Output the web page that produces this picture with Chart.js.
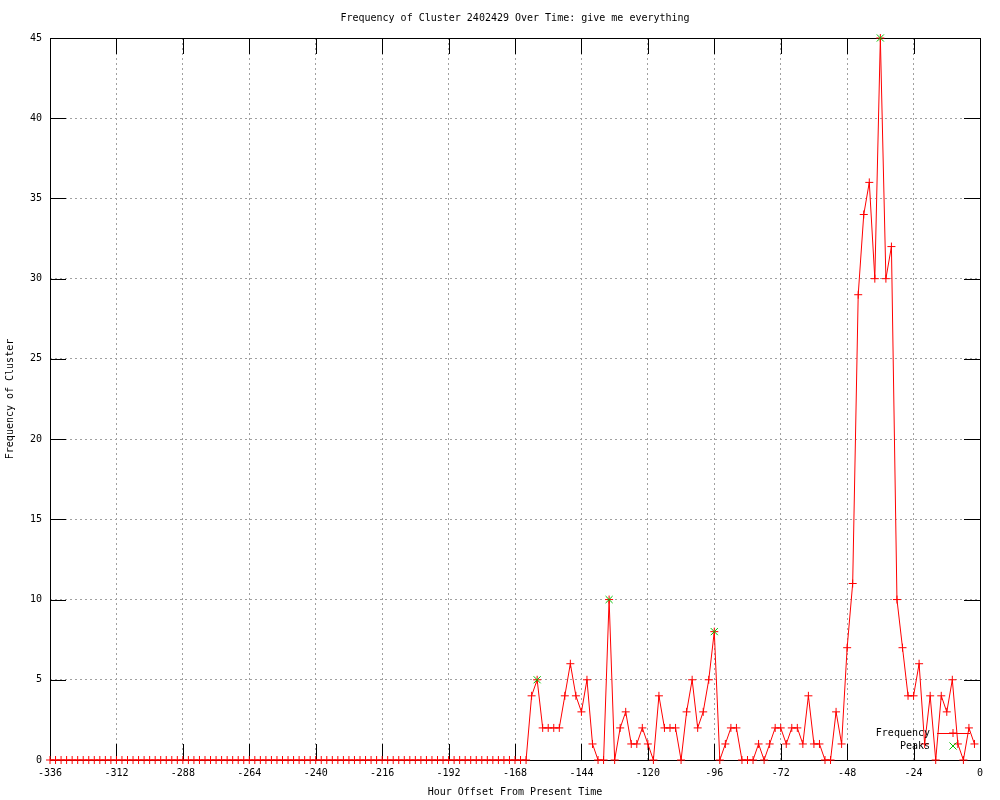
<!DOCTYPE html>
<html>
<head>
<meta charset="utf-8">
<script src="https://cdn.jsdelivr.net/npm/chart.js@4"></script>
<style>
  html, body { margin: 0; padding: 0; background: #fff; }
  #wrap { width: 1000px; height: 800px; }
</style>
</head>
<body>
<div id="wrap"><canvas id="chart" width="1000" height="800"></canvas></div>
<script>
// frequency per 2-hour bucket, first bucket at -336h, last at -2h
const START_HOUR = -336;
const STEP_HOURS = 2;
const frequency = [
    0, 0, 0, 0, 0, 0, 0, 0, 0, 0, 0, 0, 0, 0, 0, 0, 0, 0, 0, 0,
    0, 0, 0, 0, 0, 0, 0, 0, 0, 0, 0, 0, 0, 0, 0, 0, 0, 0, 0, 0,
    0, 0, 0, 0, 0, 0, 0, 0, 0, 0, 0, 0, 0, 0, 0, 0, 0, 0, 0, 0,
    0, 0, 0, 0, 0, 0, 0, 0, 0, 0, 0, 0, 0, 0, 0, 0, 0, 0, 0, 0,
    0, 0, 0, 0, 0, 0, 0,
    // -162 .. -2
    4, 5, 2, 2, 2, 2, 4, 6, 4, 3, 5, 1, 0, 0, 10, 0, 2, 3, 1, 1,
    2, 1, 0, 4, 2, 2, 2, 0, 3, 5, 2, 3, 5, 8, 0, 1, 2, 2, 0, 0,
    0, 1, 0, 1, 2, 2, 1, 2, 2, 1, 4, 1, 1, 0, 0, 3, 1, 7, 11, 29,
    34, 36, 30, 45, 30, 32, 10, 7, 4, 4, 6, 1, 4, 0, 4, 3, 5, 1, 0, 2,
    1,
];
const peakHours = [-160, -134, -96, -36];
const peakValues = [5, 10, 8, 45];

const X_MIN = -336, X_MAX = 0, X_STEP = 24;
const Y_MIN = 0, Y_MAX = 45, Y_STEP = 5;

const TITLE = 'Frequency of Cluster 2402429 Over Time: give me everything';
const FONT = '"DejaVu Sans Mono", "Liberation Mono", monospace';

const freqPoints = frequency.map((v, i) => ({ x: START_HOUR + i * STEP_HOURS, y: v }));
const peakPoints = peakHours.map((h, i) => ({ x: h, y: peakValues[i] }));

// gnuplot style: ticks pointing inwards on all four sides, title over plot area
const gnuplotFrame = {
    id: 'gnuplotFrame',
    beforeDatasetsDraw(chart) {
        const { ctx, chartArea: a, scales } = chart;
        const len = 16;
        ctx.save();
        ctx.strokeStyle = '#000';
        ctx.lineWidth = 1;
        ctx.beginPath();
        scales.x.ticks.forEach(t => {
            const x = Math.round(scales.x.getPixelForValue(t.value)) + 0.5;
            ctx.moveTo(x, a.bottom); ctx.lineTo(x, a.bottom - len);
            ctx.moveTo(x, a.top); ctx.lineTo(x, a.top + len);
        });
        scales.y.ticks.forEach(t => {
            const y = Math.round(scales.y.getPixelForValue(t.value)) + 0.5;
            ctx.moveTo(a.left, y); ctx.lineTo(a.left + len, y);
            ctx.moveTo(a.right, y); ctx.lineTo(a.right - len, y);
        });
        ctx.stroke();
        ctx.strokeRect(Math.round(a.left) + 0.5, Math.round(a.top) + 0.5,
            Math.round(a.right - a.left), Math.round(a.bottom - a.top));
        ctx.restore();
    },
    afterDraw(chart) {
        const { ctx, chartArea: a } = chart;
        ctx.save();
        ctx.fillStyle = '#000';
        ctx.font = '10px ' + FONT;
        ctx.textAlign = 'center';
        ctx.textBaseline = 'middle';
        ctx.fillText(TITLE, (a.left + a.right) / 2, 18);
        ctx.restore();
    }
};

// key in the lower right corner, text right aligned, sample to its right
const gnuplotKey = {
    id: 'gnuplotKey',
    afterDatasetsDraw(chart) {
        const { ctx } = chart;
        const entries = [chart.data.datasets[1], chart.data.datasets[0]];
        ctx.save();
        ctx.font = '10px ' + FONT;
        ctx.textAlign = 'right';
        ctx.textBaseline = 'middle';
        entries.forEach((ds, i) => {
            const y = 733 + i * 13;
            ctx.fillStyle = '#000';
            ctx.fillText(ds.label, 930, y);
            if (ds.showLine !== false) {
                ctx.strokeStyle = ds.borderColor;
                ctx.lineWidth = 1;
                ctx.beginPath();
                ctx.moveTo(937, y + 0.5);
                ctx.lineTo(970, y + 0.5);
                ctx.stroke();
            }
            ctx.strokeStyle = ds.pointBorderColor;
            ctx.lineWidth = 1;
            Chart.helpers.drawPoint(ctx, {
                pointStyle: ds.pointStyle,
                radius: ds.pointRadius,
                rotation: 0,
                borderWidth: 1
            }, 953, y);
        });
        ctx.restore();
    }
};

new Chart(document.getElementById('chart'), {
    type: 'line',
    data: {
        datasets: [
            {
                label: 'Peaks',
                data: peakPoints,
                showLine: false,
                pointStyle: 'crossRot',
                pointRadius: 5,
                pointBorderWidth: 1,
                pointBorderColor: '#00c000',
                borderColor: '#00c000',
                backgroundColor: '#00c000',
                clip: false,
            },
            {
                label: 'Frequency',
                data: freqPoints,
                borderColor: '#ff0000',
                borderWidth: 1,
                backgroundColor: '#ff0000',
                pointStyle: 'cross',
                pointRadius: 4,
                pointBorderWidth: 1,
                pointBorderColor: '#ff0000',
                tension: 0,
                clip: false,
            },
        ],
    },
    options: {
        responsive: false,
        animation: false,
        events: [],
        layout: { padding: { left: 0, right: 20, top: 38, bottom: 0 } },
        plugins: {
            legend: { display: false },
            title: { display: false },
            tooltip: { enabled: false },
        },
        scales: {
            x: {
                type: 'linear',
                min: X_MIN,
                max: X_MAX,
                afterFit(scale) { scale.height = 40; },
                ticks: {
                    stepSize: X_STEP,
                    color: '#000',
                    padding: 7,
                    maxRotation: 0,
                    font: { family: FONT, size: 10 },
                },
                grid: {
                    color: '#a0a0a0',
                    drawTicks: false,
                },
                border: { display: false, dash: [2, 3] },
                title: {
                    display: true,
                    text: 'Hour Offset From Present Time',
                    color: '#000',
                    font: { family: FONT, size: 10 },
                    padding: { top: 0, bottom: 2 },
                },
            },
            y: {
                min: Y_MIN,
                max: Y_MAX,
                afterFit(scale) { scale.width = 50; },
                ticks: {
                    stepSize: Y_STEP,
                    color: '#000',
                    padding: 8,
                    font: { family: FONT, size: 10 },
                },
                grid: {
                    color: '#a0a0a0',
                    drawTicks: false,
                },
                border: { display: false, dash: [2, 3] },
                title: {
                    display: true,
                    text: 'Frequency of Cluster',
                    color: '#000',
                    font: { family: FONT, size: 10 },
                    padding: { top: 4, bottom: 0 },
                },
            },
        },
    },
    plugins: [gnuplotFrame, gnuplotKey],
});
</script>
</body>
</html>
